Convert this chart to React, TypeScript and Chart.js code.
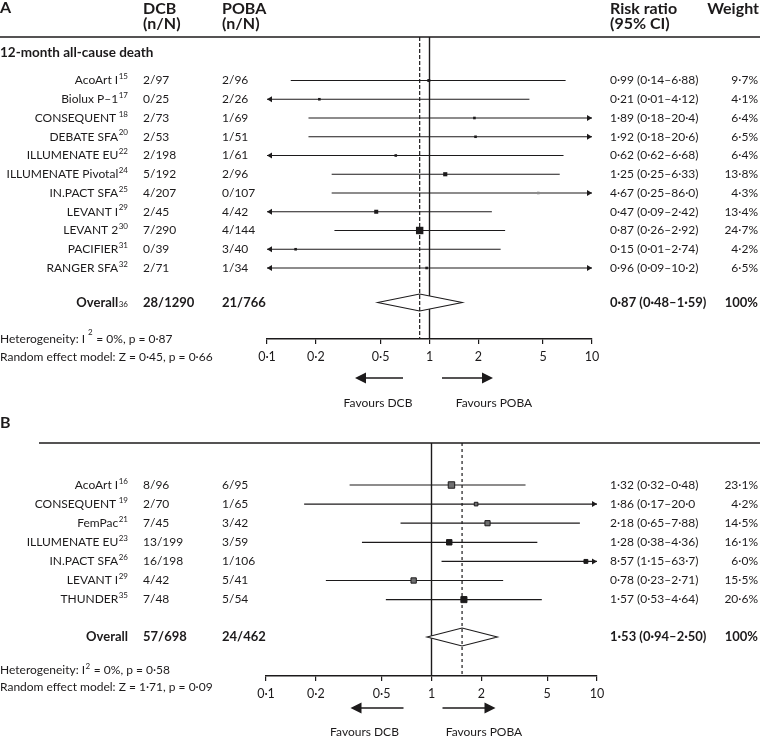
import React, { useEffect, useRef } from 'react';
import { Chart, registerables } from 'chart.js';

Chart.register(...registerables);

const FONT = 'Lato, "Noto Sans", sans-serif';
const INK = '#1c1a1b';

// ---------------- Panel A: 12-month all-cause death ----------------
const studiesA = ['AcoArt I', 'Biolux P–1', 'CONSEQUENT', 'DEBATE SFA', 'ILLUMENATE EU', 'ILLUMENATE Pivotal', 'IN.PACT SFA', 'LEVANT I', 'LEVANT 2', 'PACIFIER', 'RANGER SFA'];
const refsA = ['15', '17', ' 18', '20', '22', '24', '25', '29', '30', '31', '32'];
const dcbA = ['2/97', '0/25', '2/73', '2/53', '2/198', '5/192', '4/207', '2/45', '7/290', '0/39', '2/71'];
const pobaA = ['2/96', '2/26', '1/69', '1/51', '1/61', '2/96', '0/107', '4/42', '4/144', '3/40', '1/34'];
const rrA = [0.99, 0.21, 1.89, 1.92, 0.62, 1.25, 4.67, 0.47, 0.87, 0.15, 0.96];
const lowerA = [0.14, 0.01, 0.18, 0.18, 0.06, 0.25, 0.25, 0.09, 0.26, 0.01, 0.09];
const upperA = [6.88, 4.12, 20.4, 20.6, 6.68, 6.33, 86.0, 2.42, 2.92, 2.74, 10.2];
const ciLabelsA = ['0·99 (0·14–6·88)', '0·21 (0·01–4·12)', '1·89 (0·18–20·4)', '1·92 (0·18–20·6)', '0·62 (0·62–6·68)', '1·25 (0·25–6·33)', '4·67 (0·25–86·0)', '0·47 (0·09–2·42)', '0·87 (0·26–2·92)', '0·15 (0·01–2·74)', '0·96 (0·09–10·2)'];
const weightsA = [9.7, 4.1, 6.4, 6.5, 6.4, 13.8, 4.3, 13.4, 24.7, 4.2, 6.5];
const overallA = { label: 'Overall', ref: '36', dcb: '28/1290', poba: '21/766', rr: 0.87, lower: 0.48, upper: 1.59, ci: '0·87 (0·48–1·59)', weight: '100%' };
const hetA = ['Heterogeneity: I', '2', ' = 0%, p = 0·87'];
const reA = 'Random effect model: Z = 0·45, p = 0·66';
const subtitleA = '12-month all-cause death';

// ---------------- Panel B ----------------
const studiesB = ['AcoArt I', 'CONSEQUENT', 'FemPac', 'ILLUMENATE EU', 'IN.PACT SFA', 'LEVANT I', 'THUNDER'];
const refsB = ['16', ' 19', '21', '23', '26', '29', '35'];
const dcbB = ['8/96', '2/70', '7/45', '13/199', '16/198', '4/42', '7/48'];
const pobaB = ['6/95', '1/65', '3/42', '3/59', '1/106', '5/41', '5/54'];
const rrB = [1.32, 1.86, 2.18, 1.28, 8.57, 0.78, 1.57];
const lowerB = [0.32, 0.17, 0.65, 0.38, 1.15, 0.23, 0.53];
const upperB = [3.7, 20.0, 7.88, 4.36, 63.7, 2.71, 4.64];
const ciLabelsB = ['1·32 (0·32–0·48)', '1·86 (0·17–20·0', '2·18 (0·65–7·88)', '1·28 (0·38–4·36)', '8·57 (1·15–63·7)', '0·78 (0·23–2·71)', '1·57 (0·53–4·64)'];
const weightsB = [23.1, 4.2, 14.5, 16.1, 6.0, 15.5, 20.6];
const overallB = { label: 'Overall', ref: '', dcb: '57/698', poba: '24/462', rr: 1.53, lower: 0.94, upper: 2.50, ci: '1·53 (0·94–2·50)', weight: '100%' };
const hetB = ['Heterogeneity: I', '2', ' = 0%, p = 0·58'];
const reB = 'Random effect model: Z = 1·71, p = 0·09';

// ---------------- axis ----------------
const tickValues = [0.1, 0.2, 0.5, 1, 2, 5, 10];
const tickLabels = ['0·1', '0·2', '0·5', '1', '2', '5', '10'];
const favoursLabels = ['Favours DCB', 'Favours POBA'];

// ---------------- styles ----------------
const GREY_A = '#8d8d8d';
const GREY_B = '#6f6f70';
const fillA = studiesA.map((_, i) => (i === 6 ? GREY_A : INK));
const fillB = studiesB.map((_, i) => ([0, 1, 2, 5].includes(i) ? GREY_B : INK));

const fmtWeight = (w: number) => `${w.toFixed(1).replace('.', '·')}%`;

type PanelSpec = {
  names: string[]; refs: string[]; dcb: string[]; poba: string[];
  rr: number[]; lower: number[]; upper: number[]; ci: string[]; weights: number[];
  overall: typeof overallA; het: string[]; re: string;
  fills: string[]; squareBorder: number; sideFn: (w: number) => number;
  canvasH: number; area: { left: number; right: number; top: number; bottom: number };
  yMin: number; yMax: number; overallGap: number; diamondH: number; dash: number[];
  layout: any;
};

const panelA: PanelSpec = {
  names: studiesA, refs: refsA, dcb: dcbA, poba: pobaA, rr: rrA, lower: lowerA, upper: upperA,
  ci: ciLabelsA, weights: weightsA, overall: overallA, het: hetA, re: reA,
  fills: fillA, squareBorder: 0, sideFn: (w) => Math.max(2.6, w * 0.3),
  canvasH: 410, area: { left: 267, right: 592, top: 37, bottom: 339 },
  yMin: -2.32, yMax: 13.787, overallGap: 1.84, diamondH: 8.5, dash: [4, 2],
  layout: {
    letter: 'A', letterY: 8, headerLine: { x0: 0, y: 37 }, header: true, subtitle: subtitleA, subtitleY: 53,
    hetY: 339, reY: 357, hetSupDy: -7, hetGap: 3,
    arrowY: 378, dcbArrow: [-74.5, -26.5], pobaArrow: [12.5, 63.5], textY: 403, dcbText: -51.5, pobaText: 64.5,
  },
};

const panelB: PanelSpec = {
  names: studiesB, refs: refsB, dcb: dcbB, poba: pobaB, rr: rrB, lower: lowerB, upper: upperB,
  ci: ciLabelsB, weights: weightsB, overall: overallB, het: hetB, re: reB,
  fills: fillB, squareBorder: 1, sideFn: (w) => 3 + w * 0.15,
  canvasH: 328, area: { left: 266, right: 597, top: 33, bottom: 266 },
  yMin: -2.199, yMax: 10.0, overallGap: 1.96, diamondH: 9, dash: [3, 3],
  layout: {
    letter: 'B', letterY: 13, headerLine: { x0: 39, y: 33 }, header: false, subtitle: '', subtitleY: 0,
    hetY: 260, reY: 277, hetSupDy: -4, hetGap: 0.5,
    arrowY: 298, dcbArrow: [-81, -28], pobaArrow: [11, 64], textY: 322, dcbText: -67, pobaText: 52.5,
  },
};

const REG = `12px ${FONT}`;
const BOLD = `bold 13px ${FONT}`;
const HEAD = `bold 16px ${FONT}`;
const SUP = `8px ${FONT}`;

function text(ctx: CanvasRenderingContext2D, s: string, x: number, y: number, font: string, align: CanvasTextAlign = 'left') {
  ctx.font = font;
  ctx.textAlign = align;
  ctx.textBaseline = 'middle';
  ctx.fillStyle = INK;
  ctx.fillText(s, x, y);
}

function nameWithRef(ctx: CanvasRenderingContext2D, name: string, ref: string, right: number, y: number, font: string, refDy: number) {
  ctx.font = SUP;
  const rw = ref ? ctx.measureText(ref).width : 0;
  text(ctx, name, right - rw - (ref ? 0.5 : 0), y, font, 'right');
  if (ref) text(ctx, ref, right - rw, y + refDy, SUP, 'left');
}

function arrowHead(ctx: CanvasRenderingContext2D, tipX: number, y: number, dir: number, len: number, half: number) {
  ctx.beginPath();
  ctx.moveTo(tipX, y);
  ctx.lineTo(tipX - dir * len, y - half);
  ctx.lineTo(tipX - dir * len, y + half);
  ctx.closePath();
  ctx.fill();
}

function makePlugin(p: PanelSpec) {
  const n = p.rr.length;
  const overallRow = n - 1 + p.overallGap;
  const L = p.layout;
  return {
    id: 'forestDecor',
    afterDatasetsDraw(chart: any) {
      const ctx: CanvasRenderingContext2D = chart.ctx;
      const xs = chart.scales.x;
      const ys = chart.scales.y;
      const area = chart.chartArea;
      ctx.save();
      ctx.fillStyle = INK;
      // CI arrowheads where intervals exceed the axis
      p.lower.forEach((lo, i) => {
        const py = ys.getPixelForValue(i);
        if (lo < xs.min) arrowHead(ctx, xs.getPixelForValue(xs.min), py, -1, 5, 3);
        if (p.upper[i] > xs.max) arrowHead(ctx, xs.getPixelForValue(xs.max), py, 1, 5, 3);
      });
      // overall diamond
      const yc = ys.getPixelForValue(overallRow);
      const xl = xs.getPixelForValue(p.overall.lower);
      const xm = xs.getPixelForValue(p.overall.rr);
      const xr = xs.getPixelForValue(p.overall.upper);
      ctx.beginPath();
      ctx.moveTo(xl, yc);
      ctx.lineTo(xm, yc - p.diamondH);
      ctx.lineTo(xr, yc);
      ctx.lineTo(xm, yc + p.diamondH);
      ctx.closePath();
      ctx.fillStyle = '#ffffff';
      ctx.fill();
      ctx.strokeStyle = INK;
      ctx.lineWidth = 1.1;
      ctx.stroke();
      // dashed line at pooled estimate
      ctx.beginPath();
      ctx.setLineDash(p.dash);
      ctx.lineWidth = 1.2;
      ctx.moveTo(xm, area.top);
      ctx.lineTo(xm, area.bottom);
      ctx.stroke();
      ctx.setLineDash([]);
      ctx.restore();
    },
    afterDraw(chart: any) {
      const ctx: CanvasRenderingContext2D = chart.ctx;
      const xs = chart.scales.x;
      const ys = chart.scales.y;
      const W = chart.width;
      ctx.save();
      // panel letter + header rule
      text(ctx, L.letter, 0, L.letterY, HEAD);
      ctx.strokeStyle = INK;
      ctx.lineWidth = 1.5;
      ctx.beginPath();
      ctx.moveTo(L.headerLine.x0, L.headerLine.y);
      ctx.lineTo(W, L.headerLine.y);
      ctx.stroke();
      if (L.header) {
        text(ctx, 'DCB', 143, 9, HEAD);
        text(ctx, '(n/N)', 143, 24, HEAD);
        text(ctx, 'POBA', 222, 9, HEAD);
        text(ctx, '(n/N)', 222, 24, HEAD);
        text(ctx, 'Risk ratio', 610, 9, HEAD);
        text(ctx, '(95% CI)', 610, 24, HEAD);
        text(ctx, 'Weight', 759, 9, HEAD, 'right');
      }
      if (L.subtitle) text(ctx, L.subtitle, 0, L.subtitleY, `bold 13.5px ${FONT}`);
      // study rows
      p.names.forEach((nm, i) => {
        const py = ys.getPixelForValue(i);
        nameWithRef(ctx, nm, p.refs[i], 128, py, REG, -4);
        text(ctx, p.dcb[i], 143, py, REG);
        text(ctx, p.poba[i], 222, py, REG);
        text(ctx, p.ci[i], 610, py, REG);
        text(ctx, fmtWeight(p.weights[i]), 758, py, REG, 'right');
      });
      // overall row
      const yo = ys.getPixelForValue(overallRow);
      nameWithRef(ctx, p.overall.label, p.overall.ref, 128, yo, BOLD, 2);
      text(ctx, p.overall.dcb, 143, yo, BOLD);
      text(ctx, p.overall.poba, 222, yo, BOLD);
      text(ctx, p.overall.ci, 610, yo, BOLD);
      text(ctx, p.overall.weight, 758, yo, BOLD, 'right');
      // heterogeneity
      ctx.font = REG;
      const w1 = ctx.measureText(p.het[0]).width;
      text(ctx, p.het[0], 0, L.hetY, REG);
      text(ctx, p.het[1], w1 + L.hetGap, L.hetY + L.hetSupDy, SUP);
      ctx.font = SUP;
      const w2 = ctx.measureText(p.het[1]).width;
      text(ctx, p.het[2], w1 + L.hetGap + w2 + 0.5, L.hetY, REG);
      text(ctx, p.re, 0, L.reY, REG);
      // favours arrows
      const x1 = xs.getPixelForValue(1);
      ctx.fillStyle = INK;
      ctx.strokeStyle = INK;
      ctx.lineWidth = 1.6;
      const ay = L.arrowY;
      ctx.beginPath();
      ctx.moveTo(x1 + L.dcbArrow[1], ay);
      ctx.lineTo(x1 + L.dcbArrow[0] + 10, ay);
      ctx.stroke();
      arrowHead(ctx, x1 + L.dcbArrow[0], ay, -1, 11, 5.5);
      ctx.beginPath();
      ctx.moveTo(x1 + L.pobaArrow[0], ay);
      ctx.lineTo(x1 + L.pobaArrow[1] - 10, ay);
      ctx.stroke();
      arrowHead(ctx, x1 + L.pobaArrow[1], ay, 1, 11, 5.5);
      text(ctx, favoursLabels[0], x1 + L.dcbText, L.textY, REG, 'center');
      text(ctx, favoursLabels[1], x1 + L.pobaText, L.textY, REG, 'center');
      ctx.restore();
    },
  };
}

function buildConfig(p: PanelSpec) {
  const W = 760;
  const axisH = 30;
  const datasets: any[] = [];
  // squares (top layer)
  datasets.push({
    label: 'estimates',
    data: p.rr.map((v, i) => ({ x: v, y: i })),
    pointStyle: 'rect',
    pointRadius: p.weights.map((w) => p.sideFn(w) / Math.SQRT2),
    pointBackgroundColor: p.fills,
    pointBorderColor: INK,
    pointBorderWidth: p.squareBorder,
    showLine: false,
    order: 0,
  });
  // confidence intervals
  p.rr.forEach((_, i) => {
    datasets.push({
      label: `ci${i}`,
      data: [{ x: p.lower[i], y: i }, { x: p.upper[i], y: i }],
      showLine: true,
      borderColor: INK,
      borderWidth: 1.2,
      pointRadius: 0,
      order: 1,
    });
  });
  // line of no effect
  datasets.push({
    label: 'null',
    data: [{ x: 1, y: p.yMin }, { x: 1, y: p.yMax }],
    showLine: true,
    borderColor: INK,
    borderWidth: 1.4,
    pointRadius: 0,
    order: 2,
  });
  return {
    type: 'scatter' as const,
    data: { datasets },
    options: {
      responsive: false,
      animation: false as const,
      events: [],
      layout: {
        padding: {
          left: p.area.left,
          right: W - p.area.right,
          top: p.area.top,
          bottom: p.canvasH - p.area.bottom - axisH,
        },
      },
      plugins: { legend: { display: false }, tooltip: { enabled: false } },
      scales: {
        x: {
          type: 'logarithmic' as const,
          min: tickValues[0],
          max: tickValues[tickValues.length - 1],
          afterBuildTicks: (s: any) => { s.ticks = tickValues.map((v) => ({ value: v })); },
          afterFit: (s: any) => { s.height = axisH; },
          grid: { drawOnChartArea: false, drawTicks: true, tickLength: 5, color: INK, lineWidth: 1.2 },
          border: { display: true, color: INK, width: 1.5 },
          ticks: {
            autoSkip: false,
            maxRotation: 0,
            padding: 5,
            color: INK,
            font: { family: FONT, size: 12.5 },
            callback: (v: any) => tickLabels[tickValues.indexOf(Number(v))] ?? '',
          },
        },
        y: { type: 'linear' as const, display: false, reverse: true, min: p.yMin, max: p.yMax },
      },
    },
    plugins: [makePlugin(p)],
  };
}

function ForestPanel({ spec }: { spec: PanelSpec }) {
  const ref = useRef<HTMLCanvasElement | null>(null);
  useEffect(() => {
    if (!ref.current) return;
    const chart = new Chart(ref.current, buildConfig(spec) as any);
    return () => chart.destroy();
  }, [spec]);
  return <canvas ref={ref} width={760} height={spec.canvasH} style={{ display: 'block', width: 760, height: spec.canvasH }} />;
}

export default function App() {
  return (
    <div style={{ position: 'fixed', left: 0, top: 0, width: 760, height: 738, background: '#fff' }}>
      <ForestPanel spec={panelA} />
      <ForestPanel spec={panelB} />
    </div>
  );
}
